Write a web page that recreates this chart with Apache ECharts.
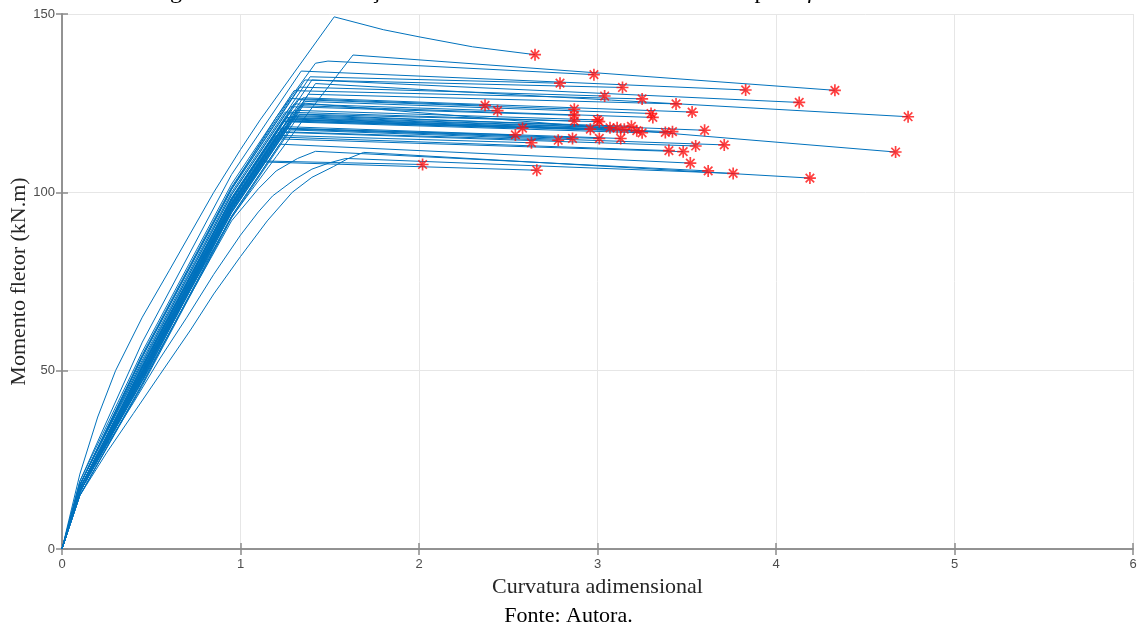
<!DOCTYPE html>
<html>
<head>
<meta charset="utf-8">
<script src="https://cdn.jsdelivr.net/npm/echarts@6/dist/echarts.min.js"></script>
<style>
  html, body { margin: 0; padding: 0; background: #fff; }
  #main { width: 1137px; height: 628px; }
</style>
</head>
<body>
<div id="main"></div>
<script>
// curvas momento x curvatura: [curvatura, momento]
const upperCurves = [
  [[0,0],[0.1,21],[0.2,37],[0.3,50],[0.45,65],[0.6,78],[0.85,100],[1.0,112],[1.11,120.3],[1.525,149.2],[1.8,145.6],[2.0,143.6],[2.3,140.8],[2.65,138.6]],
  [[0,0],[0.1,17],[0.45,49],[0.95,93],[1.2,110],[1.39,123],[1.63,138.5],[4.33,128.6]],
  [[0,0],[0.1,18],[0.45,54],[0.95,101],[1.2,121],[1.42,136.2],[1.49,136.8],[2.98,133.0]],
  [[0,0],[0.1,19],[0.45,58],[0.95,105],[1.34,134.0],[3.83,128.7]],
  [[0,0],[0.1,18],[0.45,52.4],[0.95,99.4],[1.39,132.4],[2.79,130.6]],
  [[0,0],[0.1,18],[0.45,53.8],[0.95,100.8],[1.36,131.5],[3.14,129.4]],
  [[0,0],[0.1,17],[0.45,50.8],[0.95,97.8],[1.40,131.5],[4.13,125.2]],
  [[0,0],[0.1,18],[0.45,54],[0.95,101],[1.33,129.5],[3.04,127.0]],
  [[0,0],[0.1,19],[0.45,55.3],[0.95,102.3],[1.30,128.5],[3.25,126.2]],
  [[0,0],[0.1,17],[0.45,48.3],[0.95,95.3],[1.38,127.5],[3.44,124.8]],
  [[0,0],[0.1,17],[0.45,48.3],[0.95,95.3],[1.42,130.5],[4.74,121.2]],
  [[0,0],[0.1,17],[0.45,49.5],[0.95,96.5],[1.35,126.5],[3.53,122.5]],
  [[0,0],[0.1,16],[0.45,47.3],[0.95,94.3],[1.36,125.0],[4.67,111.3]]
];

const middleCurves = [
  [[0,0],[0.1,18],[0.45,54.5],[0.95,101.5],[1.28,126.3],[2.37,124.4]],
  [[0,0],[0.1,17],[0.45,51.5],[0.95,98.5],[1.30,124.8],[2.44,122.9]],
  [[0,0],[0.1,17],[0.45,51],[0.95,98.3],[1.32,126.0],[2.87,123.3]],
  [[0,0],[0.1,18],[0.45,52],[0.95,99.3],[1.28,124.0],[2.87,121.6]],
  [[0,0],[0.1,18],[0.45,53],[0.95,100],[1.25,122.5],[2.87,120.0]],
  [[0,0],[0.1,17],[0.45,49.8],[0.95,96.8],[1.30,123.0],[3.00,120.3]],
  [[0,0],[0.1,17],[0.45,51],[0.95,98],[1.27,122.0],[3.01,119.8]],
  [[0,0],[0.1,16],[0.45,47.8],[0.95,94.8],[1.36,125.5],[3.30,122.1]],
  [[0,0],[0.1,16],[0.45,48.8],[0.95,95.8],[1.33,124.3],[3.31,121.0]],
  [[0,0],[0.1,17],[0.45,51.3],[0.95,98.3],[1.24,120.0],[2.96,117.7]],
  [[0,0],[0.1,17],[0.45,50.8],[0.95,97.8],[1.26,121.0],[3.07,118.1]],
  [[0,0],[0.1,16],[0.45,49.5],[0.95,96.6],[1.28,121.3],[3.11,118.1]],
  [[0,0],[0.1,17],[0.45,51],[0.95,98.1],[1.25,120.6],[3.15,117.7]],
  [[0,0],[0.1,16],[0.45,48.3],[0.95,95.3],[1.30,121.5],[3.19,118.5]],
  [[0,0],[0.1,16],[0.45,49.4],[0.95,96.4],[1.27,120.4],[3.22,117.3]],
  [[0,0],[0.1,17],[0.45,51],[0.95,98],[1.24,119.8],[3.25,116.7]],
  [[0,0],[0.1,16],[0.45,49.8],[0.95,96.8],[1.26,120.0],[2.58,118.0]],
  [[0,0],[0.1,17],[0.45,50.8],[0.95,97.8],[1.22,118.0],[2.54,116.1]],
  [[0,0],[0.1,16],[0.45,48.5],[0.95,95.6],[1.28,120.3],[3.38,116.8]],
  [[0,0],[0.1,16],[0.45,47.5],[0.95,94.6],[1.30,120.8],[3.42,117.0]],
  [[0,0],[0.1,15],[0.45,46.3],[0.95,93.3],[1.33,121.8],[3.60,117.4]]
];

const lowerCurves = [
  [[0,0],[0.1,17],[0.45,50.3],[0.95,97.3],[1.20,116.0],[2.63,113.9]],
  [[0,0],[0.1,17],[0.45,49.8],[0.95,96.8],[1.22,117.0],[2.78,114.6]],
  [[0,0],[0.1,16],[0.45,49],[0.95,96],[1.24,117.8],[2.86,115.1]],
  [[0,0],[0.1,17],[0.45,50],[0.95,97],[1.23,118.0],[3.01,115.1]],
  [[0,0],[0.1,16],[0.45,48.2],[0.95,95.2],[1.26,118.4],[3.13,115.1]],
  [[0,0],[0.1,16],[0.45,48.3],[0.95,95.3],[1.22,115.5],[3.40,111.7]],
  [[0,0],[0.1,17],[0.45,49.3],[0.95,96.3],[1.20,115.0],[3.48,111.4]],
  [[0,0],[0.1,16],[0.45,47.3],[0.95,94.3],[1.25,116.8],[3.55,113.0]],
  [[0,0],[0.1,15],[0.45,45.8],[0.95,92.8],[1.28,117.5],[3.71,113.3]],
  [[0,0],[0.1,15],[0.45,46.3],[0.95,93.3],[1.22,113.5],[3.52,108.2]],
  [[0,0],[0.1,15],[0.25,27],[0.4,38],[0.55,49],[0.72,61.4],[0.85,71.5],[1.0,82],[1.15,92],[1.29,100],[1.4,104.2],[1.52,107.2],[1.6,109.4],[1.69,111.2],[4.19,104.0]],
  [[0,0],[0.1,16],[0.25,29],[0.4,41],[0.55,53.5],[0.7,65],[0.85,77],[1.0,88],[1.1,94.5],[1.18,99],[1.3,103.5],[1.4,106.5],[1.5,108.3],[1.59,109.5],[3.76,105.3]],
  [[0,0],[0.1,16],[0.45,47],[0.95,92],[1.1,101],[1.2,106],[1.32,109.5],[1.42,111.5],[3.62,106.0]],
  [[0,0],[0.1,17],[0.45,50],[0.95,97],[1.12,108.8],[2.02,107.8]],
  [[0,0],[0.1,17],[0.45,49],[0.95,96],[1.14,108.5],[2.66,106.2]]
];

const xTicks = [0, 1, 2, 3, 4, 5, 6];
const yTicks = [0, 50, 100, 150];

const allCurves = upperCurves.concat(middleCurves, lowerCurves);
// ponto de ruptura = ultimo ponto de cada curva
const rupture = allCurves.map(c => c[c.length - 1]);

const asterisk = 'path://M-0.7,-5L0.7,-5L0.7,5L-0.7,5Z' +
  'M-5,-0.7L5,-0.7L5,0.7L-5,0.7Z' +
  'M-3.05,-4.05L4.05,3.05L3.05,4.05L-4.05,-3.05Z' +
  'M3.05,-4.05L4.05,-3.05L-3.05,4.05L-4.05,3.05Z';

const tickFont = '"Liberation Sans Narrow", "Liberation Sans", Arial';
const serif = '"Liberation Serif", "Times New Roman", serif';
const axisGray = '#8c8c8c';

const series = allCurves.map(c => ({
  type: 'line',
  data: c,
  showSymbol: false,
  silent: true,
  lineStyle: { color: '#0072BD', width: 1 },
  z: 2
}));
series.push({
  type: 'scatter',
  data: rupture,
  symbol: asterisk,
  symbolSize: 12,
  itemStyle: { color: '#ff1010' },
  silent: true,
  z: 5
});

const xBase = {
  type: 'value', min: xTicks[0], max: xTicks[xTicks.length - 1], interval: 1,
  axisLine: { show: true, lineStyle: { color: axisGray, width: 1.5 } },
  axisTick: { show: true, inside: true, length: 6, lineStyle: { color: axisGray, width: 1.5 } }
};
const yBase = {
  type: 'value', min: yTicks[0], max: yTicks[yTicks.length - 1], interval: 50,
  axisLine: { show: true, lineStyle: { color: axisGray, width: 1.5 } },
  axisTick: { show: true, inside: true, length: 6, lineStyle: { color: axisGray, width: 1.5 } }
};

const chart = echarts.init(document.getElementById('main'));
chart.setOption({
  animation: false,
  backgroundColor: '#fff',
  grid: { left: 62, right: 4, top: 14, bottom: 79, show: false, containLabel: false, outerBoundsMode: 'none' },
  xAxis: [
    Object.assign({}, xBase, {
      position: 'bottom',
      name: 'Curvatura adimensional',
      nameLocation: 'middle',
      nameGap: 27,
      nameTextStyle: { fontFamily: serif, fontSize: 22, color: '#262626' },
      axisLabel: { color: '#4d4d4d', fontFamily: tickFont, fontSize: 13, margin: 9 },
      splitLine: { show: true, lineStyle: { color: '#e6e6e6', width: 1 } }
    }),
    Object.assign({}, xBase, {
      position: 'top',
      axisLabel: { show: false },
      splitLine: { show: false }
    })
  ],
  yAxis: [
    Object.assign({}, yBase, {
      position: 'left',
      name: 'Momento fletor (kN.m)',
      nameLocation: 'middle',
      nameGap: 32,
      nameMoveOverlap: false,
      nameTextStyle: { fontFamily: serif, fontSize: 22, color: '#262626' },
      axisLabel: { color: '#4d4d4d', fontFamily: tickFont, fontSize: 13, margin: 7 },
      splitLine: { show: true, lineStyle: { color: '#e6e6e6', width: 1 } }
    }),
    Object.assign({}, yBase, {
      position: 'right',
      axisLabel: { show: false },
      splitLine: { show: false }
    })
  ],
  graphic: [
    {
      type: 'text',
      x: 150,
      y: 4,
      style: {
        text: 'Figura 4.12 – Distribuição momento x curvatura adimensional para\u2002{i|f}{s|ck}',
        font: '24px ' + serif,
        fill: '#000',
        verticalAlign: 'bottom',
        rich: {
          i: { fontFamily: serif, fontSize: 24, fontStyle: 'italic', fill: '#000' },
          s: { fontFamily: serif, fontSize: 17, fontStyle: 'italic', fill: '#000', padding: [8, 0, 0, 0] }
        }
      }
    },
    {
      type: 'text',
      left: 'center',
      top: 605,
      style: {
        text: 'Fonte: Autora.',
        font: '22px ' + serif,
        fill: '#000'
      }
    }
  ],
  series: series
});
</script>
</body>
</html>
